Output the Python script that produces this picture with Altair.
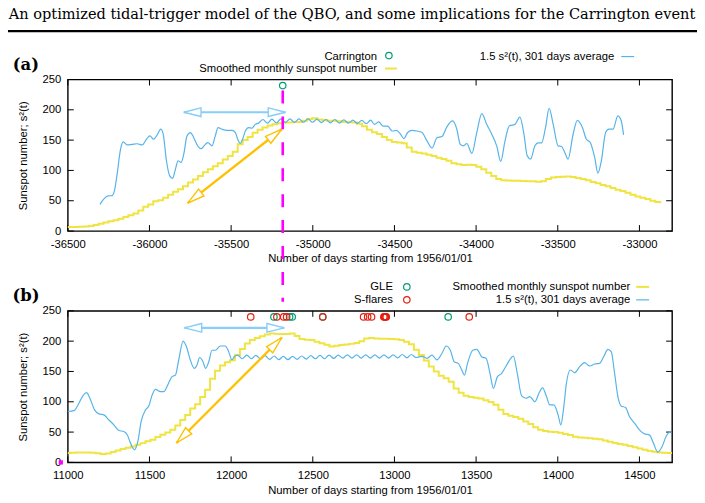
import math
import altair as alt
import pandas as pd

# ---------------------------------------------------------------- layout
W, H = 606, 152            # plot area of each panel
MONTH = 30.4375            # mean month length in days
SANS = "Liberation Sans"
FS = 11.3

YELLOW = "#F0E442"
BLUE = "#56B4E9"
GREEN = "#009E73"
RED = "#E51E10"
MAGENTA = "#FF00FF"
GOLD = "#FFC000"
SKY = "#87CEFA"

# ---------------------------------------------------------------- data
# Panel (a): solar cycle 10, days counted from 1956/01/01
xdom_a = [-36500, -32800]
xticks_a = [-36500, -36000, -35500, -35000, -34500, -34000, -33500, -33000]
ssn_a_first_day = -36525          # 1856-01
ssn_a = [6.5, 6.6, 6.8, 7.2, 7.7, 8.5, 10, 12, 14, 16, 18, 20.5, 23, 26, 29, 34,
         40, 44, 49, 51, 55, 60, 65, 69, 74, 80, 85, 91, 97, 102, 107, 112, 118,
         124, 131, 143, 150, 155, 162, 167, 171, 174, 176, 178, 179, 179, 180,
         180, 182, 185, 186, 184, 183, 182, 182, 181, 180, 180, 179, 177, 173,
         167, 163, 160, 155, 150, 147, 146, 145, 138, 131, 129, 128, 126, 124,
         121, 119, 116, 112, 110, 109, 109.5, 109, 106, 102, 96, 91, 86, 84,
         83.5, 83, 83, 82.5, 82, 82, 81.5, 82, 86, 88.5, 89, 89.5, 90, 89, 87.5,
         86, 84, 81, 79, 76, 74, 71, 68, 66, 63, 60, 57, 55, 53, 50, 48, 46]

s2_a_day = [-36303, -36279, -36255, -36228, -36214, -36198, -36177, -36161, -36136,
            -36106, -36075, -36045, -36018, -35998, -35974, -35953, -35931, -35916,
            -35896, -35876, -35859, -35841, -35825, -35806, -35790, -35770, -35749,
            -35729, -35705, -35684, -35658, -35642, -35617, -35597, -35580, -35556,
            -35525, -35495, -35474, -35460, -35444, -35430, -35413, -35393, -35373,
            -35352, -35332, -35305, -35277, -35250, -35222, -35195, -35167, -35140,
            -35112, -35085, -35057, -35030, -35002, -34975, -34947, -34920, -34892,
            -34865, -34837, -34810, -34782, -34755, -34727, -34700, -34672, -34646,
            -34622, -34596, -34569, -34541, -34514, -34488, -34463, -34443, -34419,
            -34392, -34362, -34331, -34301, -34270, -34240, -34209, -34179, -34144,
            -34118, -34097, -34077, -34057, -34026, -33996, -33965, -33935, -33904,
            -33874, -33849, -33823, -33797, -33762, -33732, -33707, -33687, -33666,
            -33640, -33620, -33599, -33575, -33553, -33528, -33498, -33477, -33457,
            -33437, -33406, -33380, -33349, -33325, -33301, -33274, -33254, -33233,
            -33207, -33187, -33162, -33132, -33111, -33097]
s2_a_val = [44, 53, 58, 58.5, 67, 94, 135, 147, 142, 143, 144, 142, 151.5, 157, 151.5,
            158.6, 168, 160, 116, 91, 87, 102, 116, 113, 127, 157, 162.5, 154, 140.6,
            136, 143, 146, 140.6, 157, 170.7, 168, 166, 166, 162.5, 151.5, 144.4,
            151.5, 165, 170.7, 169.6, 176, 178, 184, 178, 184.5, 178.5, 185, 179, 185,
            179, 185, 179.5, 185, 179.5, 184.5, 179, 184, 178.5, 184, 178, 183.5, 178,
            183, 177.5, 182.5, 177, 183, 176, 180, 173, 173, 165, 166, 160, 152.6,
            162.5, 166, 165, 162.5, 148.8, 136.8, 154, 156, 171.8, 181.6, 168, 143,
            140.6, 144.4, 128, 162.5, 193.7, 176, 159.7, 140.6, 115, 148.8, 173.4,
            176, 188, 159.7, 124, 118.7, 140.6, 145.5, 145.5, 170.7, 202.4, 176,
            140.6, 139.5, 129.6, 118.7, 159.7, 182.7, 170.7, 151.5, 146, 121.4, 95.7,
            116, 162.5, 168, 168, 190, 181.6, 158.6]

carrington_day = [-35184]
carrington_val = [240]

# double arrows: (days, values) of the two tips
arrow_a_horiz = ([-35790, -35167], [196, 196])
arrow_a_diag = ([-35766, -35190], [46, 168])

# Panel (b): solar cycle 22
xdom_b = [11000, 14700]
xticks_b = [11000, 11500, 12000, 12500, 13000, 13500, 14000, 14500]
ssn_b_first_day = 10958           # 1986-01
ssn_b = [15.5, 15.5, 16, 16.3, 16.4, 16.2, 15.8, 15.2, 14, 14.5, 17, 19.5, 22, 24,
         26.3, 29, 31.8, 35, 37.5, 42, 45.5, 49.5, 54, 61, 70, 78, 89, 96, 108, 120,
         138, 151, 160, 165, 168.5, 177, 187, 196, 202, 205, 208, 211, 212.7, 212,
         211.6, 211.6, 212.7, 208.5, 203.5, 202.5, 202, 199, 196.5, 194, 191, 192.5,
         193.5, 194.5, 195.5, 197, 200, 204.5, 205, 204.5, 204, 204, 203.5, 203, 202,
         199, 195, 186, 177, 168, 158, 150, 143, 139, 133, 122, 115, 110, 108, 106.5,
         105.5, 102.5, 99.5, 95, 87, 80, 77, 75, 72, 67.5, 63.5, 58, 54, 52, 50.7, 50,
         49, 47, 45, 42.5, 41, 40.5, 40, 39, 38, 36, 34, 32, 30.5, 29, 27, 25, 23, 21,
         19, 17.5, 16.2, 15.8, 15.5, 15.4]

s2_b_day = [10997, 11038, 11068, 11095, 11115, 11135, 11164, 11190, 11221, 11252, 11282,
            11313, 11343, 11364, 11384, 11408, 11429, 11449, 11476, 11496, 11516, 11537,
            11567, 11588, 11612, 11638, 11659, 11679, 11706, 11730, 11750, 11775, 11791,
            11807, 11828, 11844, 11863, 11883, 11903, 11934, 11964, 11985, 12005, 12019,
            12040, 12068, 12096, 12124, 12152, 12180, 12208, 12236, 12264, 12292, 12320,
            12348, 12376, 12404, 12432, 12460, 12488, 12516, 12544, 12572, 12600, 12628,
            12656, 12684, 12712, 12740, 12768, 12796, 12824, 12852, 12880, 12908, 12936,
            12964, 12992, 13020, 13048, 13076, 13104, 13132, 13169, 13199, 13230, 13260,
            13291, 13317, 13342, 13366, 13392, 13413, 13429, 13447, 13480, 13504, 13535,
            13561, 13585, 13606, 13630, 13657, 13687, 13728, 13752, 13779, 13805, 13829,
            13860, 13886, 13907, 13931, 13951, 13976, 14002, 14019, 14037, 14053, 14077,
            14104, 14134, 14165, 14195, 14226, 14256, 14281, 14307, 14327, 14348, 14368,
            14388, 14415, 14439, 14470, 14500, 14531, 14561, 14586, 14612, 14639, 14663,
            14687, 14705]
s2_b_val = [84, 85.5, 97.6, 111, 115, 105.8, 86.6, 80, 78.4, 70, 62, 52.6, 51, 45.5,
            31.8, 20.8, 34.5, 67.4, 86.6, 93.2, 111, 120.6, 116.8, 116.8, 127.7, 141.4,
            144, 168.9, 200, 188, 169, 155, 160.6, 173, 166, 155, 166, 185, 185, 192,
            192, 182.6, 169, 174.3, 177, 171, 177, 171, 176.5, 170.5, 176, 170, 175.5,
            169.5, 175, 169.5, 175, 170, 175.5, 170.5, 176, 171, 176.5, 171, 177, 171.5,
            177, 172, 177.5, 172, 177.5, 172, 177.5, 172, 177.5, 172, 177.5, 172, 177.5,
            172.5, 178, 172.5, 178, 173, 175, 171.6, 177, 169, 180, 192, 185, 166, 163,
            152, 144, 163, 185, 186.4, 174, 171.6, 147, 122, 141, 147, 160.6, 175.4,
            147, 109.6, 105.8, 108.6, 100, 115, 123, 108.6, 94.8, 94.8, 78.4, 62, 92,
            130.5, 152.4, 148, 158, 164.5, 159, 162.3, 163.4, 174.3, 186.4, 182.6, 147,
            108.6, 93.2, 90.5, 75.7, 64.7, 53.7, 47, 45.5, 31.8, 17, 26.3, 42.8, 50, 50]

event_level = 240
gle_day = [12262, 12358, 12374, 12561, 13329]
flare_day = [12120, 12280, 12322, 12340, 12561, 12811, 12836, 12860, 12935, 12940,
             12945, 12950, 13458]

arrow_b_horiz = ([11714, 12325], [222, 222])
arrow_b_diag = ([11665, 12311], [32, 206])

yticks = [0, 50, 100, 150, 200, 250]

# ---------------------------------------------------------------- helpers
ONE = pd.DataFrame({"k": [0]})
HEAD = "M0,0L-2,-0.5L-2,0.5Z"      # arrow head with its tip at the origin


def encodings(xdom, xticks):
    xaxis = alt.Axis(values=xticks, labelExpr="'' + datum.value", labelFont=SANS,
                     labelFontSize=FS, labelColor="black", labelPadding=7,
                     labelFlush=False, labelOverlap=False, domain=False, ticks=False,
                     grid=False, titleFont=SANS, titleFontSize=FS,
                     titleFontWeight="normal", titleColor="black", titleX=W / 2,
                     titleY=28, titleBaseline="middle", titleAlign="center")
    yaxis = alt.Axis(values=yticks, labelFont=SANS, labelFontSize=FS,
                     labelColor="black", labelPadding=7, labelFlush=False,
                     domain=False, ticks=False, grid=False, titleFont=SANS,
                     titleFontSize=FS, titleFontWeight="normal", titleColor="black",
                     titleX=-44, titleY=H / 2, titleAngle=270,
                     titleBaseline="middle", titleAlign="center")
    X = alt.X("day:Q", scale=alt.Scale(domain=xdom, nice=False, zero=False),
              axis=xaxis, title="Number of days starting from 1956/01/01")
    Y = alt.Y("val:Q", scale=alt.Scale(domain=[0, 250], nice=False),
              axis=yaxis, title="Sunspot number; s²(t)")
    return X, Y


def frame_ticks(X, Y, xticks):
    tx = pd.DataFrame({"day": xticks})
    ty = pd.DataFrame({"val": yticks})
    rule = dict(color="black", strokeWidth=1)
    return [
        alt.Chart(tx).mark_rule(**rule).encode(x=X, y=alt.value(H), y2=alt.value(H - 6)),
        alt.Chart(tx).mark_rule(**rule).encode(x=X, y=alt.value(0), y2=alt.value(6)),
        alt.Chart(ty).mark_rule(**rule).encode(y=Y, x=alt.value(0), x2=alt.value(6)),
        alt.Chart(ty).mark_rule(**rule).encode(y=Y, x=alt.value(W), x2=alt.value(W - 6)),
    ]


def monthly_steps(first_day, values, X, Y):
    df = pd.DataFrame({"day": [first_day + i * MONTH for i in range(len(values))],
                       "val": values})
    return alt.Chart(df).mark_line(color=YELLOW, strokeWidth=2, interpolate="step-after",
                                   clip=True).encode(x=X, y=Y)


def smooth_curve(days, vals, X, Y):
    df = pd.DataFrame({"day": days, "val": vals})
    return alt.Chart(df).mark_line(color=BLUE, strokeWidth=1.2, interpolate="monotone",
                                   clip=True).encode(x=X, y=Y)


def double_arrow(tips, color, width, X, Y, xdom):
    xs, ys = tips

    def px(d):
        return (d - xdom[0]) / (xdom[1] - xdom[0]) * W

    def py(v):
        return H - v / 250 * H

    ang = math.degrees(math.atan2(py(ys[1]) - py(ys[0]), px(xs[1]) - px(xs[0])))
    df = pd.DataFrame({"day": xs, "val": ys,
                       "rot": [(ang + 180) % 360, ang % 360]})
    shaft = alt.Chart(df).mark_line(color=color, strokeWidth=width).encode(x=X, y=Y)
    heads = alt.Chart(df).mark_point(shape=HEAD, size=300, filled=True, fill="white",
                                     stroke=color, strokeWidth=1.4, opacity=1).encode(
        x=X, y=Y, angle=alt.Angle("rot:Q", scale=None))
    return [shaft, heads]


def circles(days, color, X, Y):
    df = pd.DataFrame({"day": days, "val": [event_level] * len(days)})
    return alt.Chart(df).mark_point(shape="circle", filled=False, color=color, size=42,
                                    strokeWidth=1.2, opacity=1).encode(x=X, y=Y)


def label(text, x, y, align="right", font=SANS, size=FS, weight="normal"):
    return alt.Chart(ONE).mark_text(text=text, align=align, baseline="middle", font=font,
                                    fontSize=size, fontWeight=weight, color="black").encode(
        x=alt.value(x), y=alt.value(y))


def key_line(x1, x2, y, color, width):
    return alt.Chart(ONE).mark_rule(color=color, strokeWidth=width).encode(
        x=alt.value(x1), x2=alt.value(x2), y=alt.value(y))


def key_circle(x, y, color):
    return alt.Chart(ONE).mark_point(shape="circle", filled=False, color=color, size=42,
                                     strokeWidth=1.2, opacity=1).encode(
        x=alt.value(x), y=alt.value(y))


# ---------------------------------------------------------------- panel (a)
Xa, Ya = encodings(xdom_a, xticks_a)
carr_df = pd.DataFrame({"day": carrington_day, "val": carrington_val})

panel_a = alt.layer(
    # page extent (transparent)
    alt.Chart(ONE).mark_rect(opacity=0).encode(
        x=alt.value(-67), x2=alt.value(638), y=alt.value(-78), y2=alt.value(425)),
    *frame_ticks(Xa, Ya, xticks_a),
    monthly_steps(ssn_a_first_day, ssn_a, Xa, Ya),
    smooth_curve(s2_a_day, s2_a_val, Xa, Ya),
    *double_arrow(arrow_a_diag, GOLD, 2.4, Xa, Ya, xdom_a),
    *double_arrow(arrow_a_horiz, SKY, 2.2, Xa, Ya, xdom_a),
    alt.Chart(carr_df).mark_point(shape="circle", filled=False, color=GREEN, size=42,
                                  strokeWidth=1.2, opacity=1).encode(x=Xa, y=Ya),
    alt.Chart(carr_df).mark_rule(color=MAGENTA, strokeWidth=2.6,
                                 strokeDash=[13, 13]).encode(
        x=Xa, y=alt.value(11), y2=alt.value(223)),
    # page title and rule
    label("An optimized tidal-trigger model of the QBO, and some implications for the "
          "Carrington event", 285, -65, align="center", font="DejaVu Serif", size=14.6),
    alt.Chart(ONE).mark_rule(color="black", strokeWidth=2.5).encode(
        x=alt.value(-60), x2=alt.value(631), y=alt.value(-48.5)),
    label("(a)", -42, -15, align="center", font="DejaVu Serif", size=16.5, weight="bold"),
    # key
    label("Carrington", 310, -23),
    key_circle(322, -24, GREEN),
    label("Smoothed monthly sunspot number", 310, -11),
    key_line(318, 330, -11, YELLOW, 2),
    label("1.5 s²(t), 301 days average", 548, -23),
    key_line(555, 568, -23, BLUE, 1.2),
).properties(width=W, height=H)

# ---------------------------------------------------------------- panel (b)
Xb, Yb = encodings(xdom_b, xticks_b)

panel_b = alt.layer(
    *frame_ticks(Xb, Yb, xticks_b),
    monthly_steps(ssn_b_first_day, ssn_b, Xb, Yb),
    smooth_curve(s2_b_day, s2_b_val, Xb, Yb),
    *double_arrow(arrow_b_diag, GOLD, 2.4, Xb, Yb, xdom_b),
    *double_arrow(arrow_b_horiz, SKY, 2.2, Xb, Yb, xdom_b),
    circles(gle_day, GREEN, Xb, Yb),
    circles(flare_day, RED, Xb, Yb),
    alt.Chart(ONE).mark_square(color=MAGENTA, size=18, opacity=1).encode(
        x=alt.value(-7), y=alt.value(H)),
    label("(b)", -42, -15, align="center", font="DejaVu Serif", size=16.5, weight="bold"),
    # key
    label("GLE", 326, -24),
    key_circle(340, -24, GREEN),
    label("S-flares", 326, -11),
    key_circle(340, -11, RED),
    label("Smoothed monthly sunspot number", 564, -24),
    key_line(570, 583, -24, YELLOW, 2),
    label("1.5 s²(t), 301 days average", 564, -11),
    key_line(570, 583, -11, BLUE, 1.2),
).properties(width=W, height=H)

chart = alt.vconcat(panel_a, panel_b, spacing=80, bounds="flush").properties(
    padding=0, background="white"
).configure_view(stroke="black", strokeWidth=1.4)

chart.save("out.html", embed_options={"renderer": "svg", "actions": False})
